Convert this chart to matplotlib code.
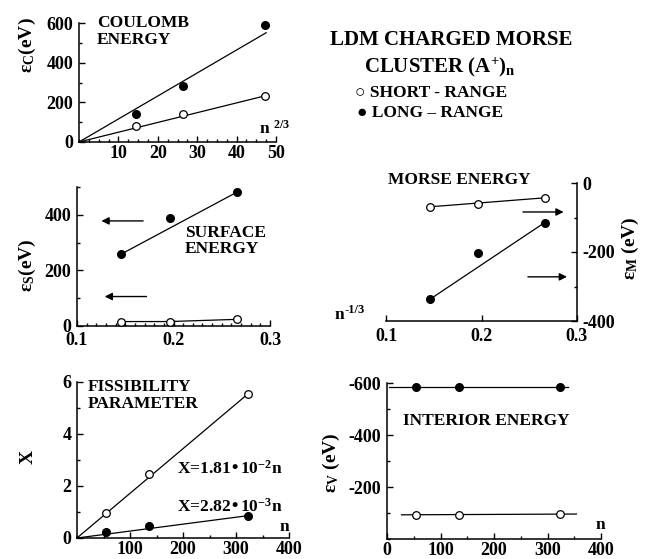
import numpy as np
import matplotlib
matplotlib.use("Agg")
import matplotlib.pyplot as plt
from matplotlib.ticker import MultipleLocator

plt.rcParams["font.family"] = ["Liberation Serif", "DejaVu Serif"]
plt.rcParams["font.weight"] = "bold"
plt.rcParams["axes.unicode_minus"] = False
plt.rcParams["mathtext.default"] = "regular"

# cluster sizes and derived abscissae
n_vals = [55, 135, 323]
n23_vals = [14.5, 26.3, 47.1]
n13_vals = [0.146, 0.196, 0.266]

# Coulomb energy (eV) vs n^2/3
coul_short = [80, 140, 232]
coul_long = [140, 282, 588]
coul_slope_short = 4.93
coul_slope_long = 11.6

# Surface energy (eV) vs n^-1/3
surf_short = [16, 16, 24]
surf_long = [259, 388, 482]

# Morse energy (eV) vs n^-1/3
morse_short = [-69, -60, -43]
morse_long = [-337, -204, -115]

# Fissibility parameter vs n
fiss_short = [0.96, 2.45, 5.55]
fiss_long = [0.23, 0.45, 0.86]

# Interior energy (eV) vs n
int_short = [-93, -93, -96]
int_long = [-583, -583, -583]

surf_arrows = [((0.1685, 378), (0.1253, 378)), ((0.172, 106), (0.1287, 106))]
morse_arrows = [((0.2434, -84), (0.2860, -84)), ((0.2486, -272), (0.2895, -272))]

W, H = 647, 559
fig = plt.figure(figsize=(W / 100, H / 100), dpi=100)


def make_ax(l, r, t, b):
    return fig.add_axes([l / W, 1 - b / H, (r - l) / W, (b - t) / H])


def style(ax, right=False):
    for s in ["top", "right", "left", "bottom"]:
        ax.spines[s].set_visible(False)
    ax.spines["bottom"].set_visible(True)
    ax.spines["right" if right else "left"].set_visible(True)
    for s in ax.spines.values():
        s.set_linewidth(1.1)
    ax.tick_params(which="both", direction="in", labelsize=13, width=1)
    ax.tick_params(axis="x", pad=2.5)
    ax.tick_params(axis="y", pad=4)
    ax.tick_params(which="major", length=4)
    ax.tick_params(which="minor", length=2)
    if right:
        ax.yaxis.tick_right()
    else:
        ax.yaxis.tick_left()
    ax.xaxis.tick_bottom()
    ax.patch.set_alpha(0)


open_kw = dict(marker="o", ms=5.5, mfc="white", mec="black", mew=0.9,
               ls="none", zorder=5, clip_on=False)
fill_kw = dict(marker="o", ms=5.5, mfc="black", mec="black", ls="none",
               zorder=5, clip_on=False)
line_kw = dict(color="black", lw=0.9, clip_on=False)
txt_kw = dict(fontsize=12.5, fontweight="bold")
arrow_kw = dict(arrowstyle="-|>", color="black", lw=1, mutation_scale=11,
                shrinkA=0, shrinkB=0)

# ---- Coulomb ----
ax1 = make_ax(79, 276, 23, 142)
style(ax1)
xl = np.array([0, 47.5])
xs = np.array([0, n23_vals[-1]])
ax1.plot(xl, coul_slope_long * xl, **line_kw)
ax1.plot(xs, coul_slope_short * xs, **line_kw)
ax1.plot(n23_vals, coul_short, **open_kw)
ax1.plot(n23_vals, coul_long, **fill_kw)
ax1.set_xlim(0, 50)
ax1.set_ylim(0, 600)
ax1.set_xticks([10, 20, 30, 40, 50])
ax1.set_yticks([0, 200, 400, 600])
ax1.xaxis.set_minor_locator(MultipleLocator(2.5))
ax1.yaxis.set_minor_locator(MultipleLocator(100))
ax1.text(4.6, 640, "COULOMB\nENERGY", va="top", ha="left",
         linespacing=1.05, **txt_kw)
ax1.text(45.6, 68, r"n $^{2/3}$", ha="left", va="center", **txt_kw)

# ---- Surface ----
ax2 = make_ax(77, 270, 187, 326)
style(ax2)
ax2.tick_params(axis="x", pad=4)
ax2.plot([n13_vals[0], n13_vals[-1]], [surf_long[0], surf_long[-1]], **line_kw)
ax2.plot(n13_vals, surf_short, **line_kw)
ax2.plot(n13_vals, surf_short, **open_kw)
ax2.plot(n13_vals, surf_long, **fill_kw)
ax2.set_xlim(0.1, 0.3)
ax2.set_ylim(0, 500)
ax2.set_xticks([0.1, 0.2, 0.3])
ax2.set_yticks([0, 200, 400])
ax2.xaxis.set_minor_locator(MultipleLocator(0.01))
ax2.yaxis.set_minor_locator(MultipleLocator(100))
ax2.text(0.212, 365, "SURFACE\nENERGY", va="top", ha="left",
         linespacing=1.05, **txt_kw)
for tail, head in surf_arrows:
    ax2.annotate("", xy=head, xytext=tail, arrowprops=arrow_kw)

# ---- Morse ----
ax3 = make_ax(386, 577, 183, 321)
style(ax3, right=True)
ax3.tick_params(axis="x", pad=5)
ax3.plot([n13_vals[0], n13_vals[-1]], [morse_long[0], morse_long[-1]], **line_kw)
ax3.plot([n13_vals[0], n13_vals[-1]], [morse_short[0], morse_short[-1]], **line_kw)
ax3.plot(n13_vals, morse_short, **open_kw)
ax3.plot(n13_vals, morse_long, **fill_kw)
ax3.set_xlim(0.1, 0.3)
ax3.set_ylim(-400, 0)
ax3.set_xticks([0.1, 0.2, 0.3])
ax3.set_yticks([0, -200, -400])
ax3.yaxis.set_minor_locator(MultipleLocator(100))
ax3.text(0.177, 8, "MORSE ENERGY", ha="center", va="center", **txt_kw)
ax3.text(-0.27, 0.04, "n", transform=ax3.transAxes,
         ha="left", va="center", **txt_kw)
ax3.annotate("-1/3", xy=(-0.27, 0.04), xycoords="axes fraction",
             xytext=(7.5, 4), textcoords="offset points",
             ha="left", va="center", fontsize=9, fontweight="bold")
for tail, head in morse_arrows:
    ax3.annotate("", xy=head, xytext=tail, arrowprops=arrow_kw)

# ---- Fissibility ----
ax4 = make_ax(77, 289, 382, 538)
style(ax4)
ax4.plot([0, n_vals[-1]], [0, fiss_short[-1]], **line_kw)
ax4.plot([0, n_vals[-1]], [0, fiss_long[-1]], **line_kw)
ax4.plot(n_vals, fiss_short, **open_kw)
ax4.plot(n_vals, fiss_long, **fill_kw)
ax4.set_xlim(0, 400)
ax4.set_ylim(0, 6)
ax4.set_xticks([100, 200, 300, 400])
ax4.set_yticks([0, 2, 4, 6])
ax4.xaxis.set_minor_locator(MultipleLocator(50))
ax4.yaxis.set_minor_locator(MultipleLocator(1))
ax4.text(20, 6.1, "FISSIBILITY\nPARAMETER", va="top", ha="left",
         linespacing=1.05, **txt_kw)
ax4.text(188, 2.68, r"X=1.81•10$^{-2}$n", ha="left", va="center", **txt_kw)
ax4.text(188, 1.21, r"X=2.82•10$^{-3}$n", ha="left", va="center", **txt_kw)
ax4.text(392, 0.42, "n", ha="center", va="center", **txt_kw)

# ---- Interior ----
ax5 = make_ax(387, 601, 383, 539)
style(ax5)
ax5.plot([3, 338], [int_long[0], int_long[-1]], **line_kw)
ax5.plot([27, 354], [int_short[0], int_short[-1]], **line_kw)
ax5.plot(n_vals, int_short, **open_kw)
ax5.plot(n_vals, int_long, **fill_kw)
ax5.set_xlim(0, 400)
ax5.set_ylim(0, -600)
ax5.set_xticks([0, 100, 200, 300, 400])
ax5.set_yticks([-600, -400, -200])
ax5.xaxis.set_minor_locator(MultipleLocator(50))
ax5.yaxis.set_minor_locator(MultipleLocator(100))
ax5.text(29, -452, "INTERIOR ENERGY", ha="left", va="center", **txt_kw)
ax5.text(398, -55, "n", ha="center", va="center", **txt_kw)

# ---- axis labels (figure level) ----
lab_kw = dict(fontsize=14, fontweight="bold", rotation=90,
              ha="center", va="center")
fig.text(27 / W, 1 - 45 / H, r"ε$_{C}$(eV)", **lab_kw)
fig.text(27 / W, 1 - 265 / H, r"ε$_{S}$(eV)", **lab_kw)
fig.text(28 / W, 1 - 457 / H, "X", **lab_kw)
fig.text(630 / W, 1 - 248 / H, r"ε$_{M}$ (eV)", **lab_kw)
fig.text(331 / W, 1 - 463 / H, r"ε$_{V}$ (eV)", **lab_kw)

# ---- header / legend ----
fig.text(451 / W, 1 - 40 / H, "LDM CHARGED MORSE", ha="center",
         va="center", fontsize=15, fontweight="bold")
fig.text(440 / W, 1 - 67 / H, r"CLUSTER (A$^{+}$)$_{n}$", ha="center",
         va="center", fontsize=15, fontweight="bold")
fig.text(355 / W, 1 - 93 / H, "○ SHORT - RANGE", ha="left", va="center",
         fontsize=12.5, fontweight="bold")
fig.text(357 / W, 1 - 113 / H, "● LONG – RANGE", ha="left", va="center",
         fontsize=12.5, fontweight="bold")

fig.savefig("out.png", dpi=100)
